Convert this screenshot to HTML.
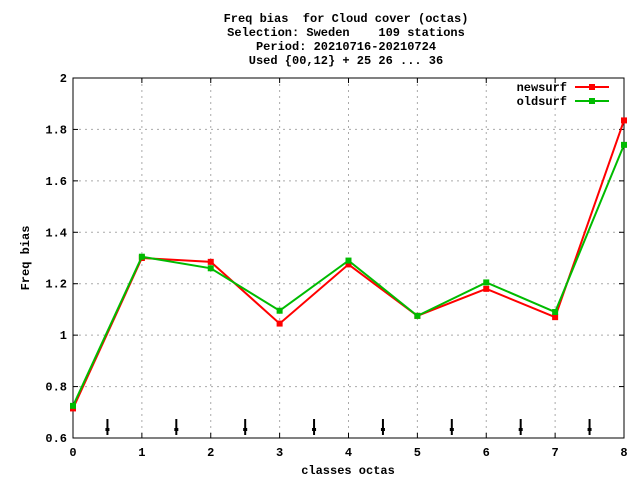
<!DOCTYPE html>
<html><head><meta charset="utf-8"><style>
body{margin:0;background:#fff}
svg text{font-family:"Liberation Mono","DejaVu Sans Mono",monospace;font-size:12px;font-weight:bold;fill:#000;white-space:pre}
</style></head><body>
<svg id="c" width="640" height="480" xmlns="http://www.w3.org/2000/svg">
<g>
<text x="346" y="22" text-anchor="middle" xml:space="preserve">Freq bias  for Cloud cover (octas)</text>
<text x="346" y="36" text-anchor="middle" xml:space="preserve">Selection: Sweden    109 stations</text>
<text x="346" y="50" text-anchor="middle">Period: 20210716-20210724</text>
<text x="346" y="64" text-anchor="middle">Used {00,12} + 25 26 ... 36</text>
</g>
<text transform="translate(29,258) rotate(-90)" text-anchor="middle">Freq bias</text>
<text x="348" y="474" text-anchor="middle">classes octas</text>
<g id="grid"></g><g id="axes"></g><g id="series"></g>
<g>
<text x="567" y="91" text-anchor="end">newsurf</text>
<line x1="575" y1="87" x2="609" y2="87" stroke="#f00" stroke-width="2"/><rect x="589" y="84" width="6" height="6" fill="#f00"/>
<text x="567" y="105" text-anchor="end">oldsurf</text>
<line x1="575" y1="101" x2="609" y2="101" stroke="#0b0" stroke-width="2"/><rect x="589" y="98" width="6" height="6" fill="#0b0"/>
</g>
</svg>
<script>
const categories=[0,1,2,3,4,5,6,7,8];
const newsurf=[0.715,1.30,1.285,1.045,1.275,1.075,1.18,1.07,1.835];
const oldsurf=[0.725,1.305,1.26,1.095,1.29,1.075,1.205,1.09,1.74];
const yTicks=[0.6,0.8,1,1.2,1.4,1.6,1.8,2];
const yTickLabels=["0.6","0.8","1","1.2","1.4","1.6","1.8","2"];
const arrowPos=[0.5,1.5,2.5,3.5,4.5,5.5,6.5,7.5];
const L=73,R=624,T=78,B=438;
const xs=v=>L+(v-0)/8*(R-L);
const ys=v=>B-(v-0.6)/1.4*(B-T);
const NS="http://www.w3.org/2000/svg";
function mk(tag,attrs,parent){const e=document.createElementNS(NS,tag);for(const k in attrs)e.setAttribute(k,attrs[k]);document.getElementById(parent).appendChild(e);return e;}
yTicks.forEach((t,i)=>{const y=ys(t);
 if(i>0&&i<yTicks.length-1){const g=mk('line',{x1:L,x2:R,y1:y,y2:y,stroke:'#aaa','stroke-dasharray':'2,4'},'grid');
 
 }
 mk('line',{x1:L,x2:L+5,y1:y,y2:y,stroke:'#000'},'axes');
 mk('line',{x1:R,x2:R-5,y1:y,y2:y,stroke:'#000'},'axes');
 const tx=mk('text',{x:L-6,y:y+4,'text-anchor':'end'},'axes');tx.textContent=yTickLabels[i];
 
 });
categories.forEach((c,i)=>{const x=xs(c);
 if(i>0&&i<categories.length-1){const g=mk('line',{x1:x,x2:x,y1:T,y2:B,stroke:'#aaa','stroke-dasharray':'2,4'},'grid');
 
 }
 mk('line',{x1:x,x2:x,y1:B,y2:B-5,stroke:'#000'},'axes');
 mk('line',{x1:x,x2:x,y1:T,y2:T+5,stroke:'#000'},'axes');
 const tx=mk('text',{x:x,y:B+18,'text-anchor':'middle'},'axes');tx.textContent=String(c);
 
 });
const fr=mk('rect',{x:L,y:T,width:R-L,height:B-T,fill:'none',stroke:'#000','stroke-width':1},'axes');


arrowPos.forEach(a=>{const x=xs(a);
 const ar=mk('line',{x1:x,x2:x,y1:419,y2:435,stroke:'#000','stroke-width':2},'axes');
 
 
 mk('rect',{x:x-2,y:428,width:4,height:3,fill:'#000'},'axes');});
function series(vals,col,name){
 const pl=mk('polyline',{points:vals.map((v,i)=>xs(categories[i])+','+ys(v)).join(' '),fill:'none',stroke:col,'stroke-width':2},'series');
 
 
 vals.forEach((v,i)=>{const r=mk('rect',{x:xs(categories[i])-3,y:ys(v)-3,width:6,height:6,fill:col},'series');
 
 });}
series(newsurf,'#f00','newsurf');
series(oldsurf,'#0b0','oldsurf');
</script>
</body></html>
